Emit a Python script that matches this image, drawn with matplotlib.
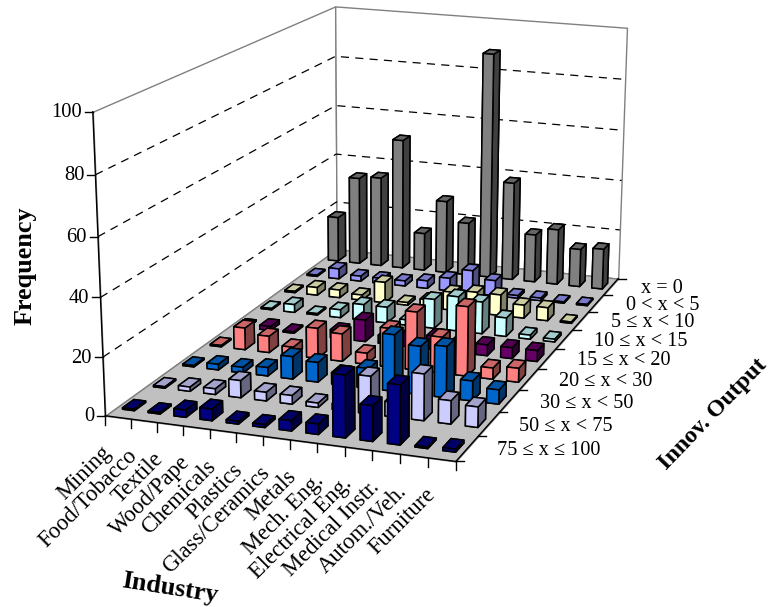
import numpy as np
import matplotlib
matplotlib.use("Agg")
import matplotlib.pyplot as plt
from matplotlib.colors import to_rgb
from matplotlib.lines import Line2D
from mpl_toolkits.mplot3d import Axes3D
from mpl_toolkits.mplot3d.art3d import Poly3DCollection

plt.rcParams["font.family"] = ["Liberation Serif", "DejaVu Serif"]

WIDTH, HEIGHT = 770, 607

industries = ["Mining", "Food/Tobacco", "Textile", "Wood/Pape", "Chemicals", "Plastics",
              "Glass/Ceramics", "Metals", "Mech. Eng.", "Electrical Eng.", "Medical Instr.",
              "Autom./Veh.", "Furniture"]
output_classes = ["x = 0", "0 < x < 5", "5 \u2264 x < 10", "10 \u2264 x < 15", "15 \u2264 x < 20",
                  "20 \u2264 x < 30", "30 \u2264 x < 50", "50 \u2264 x < 75", "75 \u2264 x \u2264 100"]
freq_ticks = [0, 20, 40, 60, 80, 100]

# one list per output class, back row first
row_x0 = [18, 35, 36, 52, 15, 29, 21, 89, 39, 19, 22, 15, 16]
row_x5 = [0.5, 4, 2, 2, 2, 3, 5, 9, 6, 1, 1, 0.5, 0.5]
row_x10 = [0.5, 3, 3, 2, 8, 1, 3, 7, 8, 8, 5, 5, 0.5]
row_x15 = [0.5, 3, 0.5, 3, 6, 6, 2, 11, 13, 12, 7, 1.5, 1]
row_x20 = [0.5, 1.5, 0.5, 2, 3, 8, 3, 5, 5, 4, 4, 4, 4]
row_x30 = [0.5, 8, 6, 3, 11, 10, 4, 14, 21, 13, 25, 4, 5]
row_x50 = [0.5, 2, 2, 3, 8, 7, 4, 7, 20, 17, 18, 7, 5]
row_x75 = [0.5, 1.5, 2, 6, 3, 3, 1.5, 2, 13, 5, 16, 8, 7]
row_x100 = [0.5, 0.5, 2.5, 4, 1, 1, 3.5, 3.5, 21, 12, 20, 0.5, 1]
rows = [row_x0, row_x5, row_x10, row_x15, row_x20, row_x30, row_x50, row_x75, row_x100]

row_colors = ["#808080", "#9999FF", "#FFFFCC", "#CCFFFF", "#660066",
              "#FF8080", "#0066CC", "#CCCCFF", "#000080"]

n_col = len(industries)
n_row = len(output_classes)

fig = plt.figure(figsize=(WIDTH / 100, HEIGHT / 100), dpi=100)
# square axes bigger than the figure, so nothing gets clipped
ax = fig.add_axes([-15 / WIDTH, -96 / HEIGHT, 800 / WIDTH, 800 / HEIGHT],
                  projection="3d", computed_zorder=False)
ax.set_axis_off()


def fit_camera():
    """Fit the Excel style perspective from where the plot box corners sit in the picture."""
    world = np.array([[0, 0, 0], [0, n_row, 0], [n_col, n_row, 0], [n_col, 0, 0],
                      [0, 0, 100], [0, n_row, 100], [n_col, n_row, 100]], float)
    pixels = np.array([[105, 415], [337, 250], [618, 278], [456, 462],
                       [93, 112], [335, 6], [627, 28]], float)
    display = np.column_stack([pixels[:, 0], HEIGHT - pixels[:, 1]])
    view = ax.transData.inverted().transform(display)
    lhs, rhs = [], []
    for (X, Y, Z), (u, v) in zip(world, view):
        lhs.append([X, Y, Z, 1, 0, 0, 0, 0, -u * X, -u * Y, -u * Z])
        lhs.append([0, 0, 0, 0, X, Y, Z, 1, -v * X, -v * Y, -v * Z])
        rhs += [u, v]
    p = np.linalg.lstsq(np.array(lhs), np.array(rhs), rcond=None)[0]
    return np.array([p[:4], p[4:8], [0, 0, 0, -1], [p[8], p[9], p[10], 1]])


M = fit_camera()
ax.get_proj = lambda: M


def to_px(x, y, z):
    v = M @ np.array([x, y, z, 1.0])
    d = ax.transData.transform([v[0] / v[3], v[1] / v[3]])
    return d[0], HEIGHT - d[1]


def shade(color, k):
    return tuple(c * k for c in to_rgb(color))


def px_line(p0, p1, color="black", lw=1.0):
    fig.add_artist(Line2D([p0[0] / WIDTH, p1[0] / WIDTH],
                          [1 - p0[1] / HEIGHT, 1 - p1[1] / HEIGHT],
                          color=color, lw=lw, transform=fig.transFigure))


def px_text(x, y, s, **kw):
    fig.text(x / WIDTH, 1 - y / HEIGHT, s, **kw)


# walls and floor
wall_left = [[(0, 0, 0), (0, n_row, 0), (0, n_row, 100), (0, 0, 100)]]
wall_back = [[(0, n_row, 0), (n_col, n_row, 0), (n_col, n_row, 100), (0, n_row, 100)]]
floor = [[(0, 0, 0), (n_col, 0, 0), (n_col, n_row, 0), (0, n_row, 0)]]
for poly, fc in ((wall_left, "white"), (wall_back, "white"), (floor, "#C0C0C0")):
    ax.add_collection3d(Poly3DCollection(poly, facecolor=fc, edgecolor="#808080",
                                         linewidth=1.0, zorder=1))

for f in freq_ticks[1:-1]:
    ax.plot([0, 0, n_col], [0, n_row, n_row], [f, f, f], color="black", lw=0.9,
            dashes=(6.5, 5), zorder=2)

# bars, back row first and left to right
bar_w, bar_d = 0.46, 0.36
for r, (values, c) in enumerate(zip(rows, row_colors)):
    y_pos = n_row - 1 - r
    faces = [shade(c, 0.8), shade(c, 0.8), c, c, shade(c, 0.5), shade(c, 0.5)]
    for i, h in enumerate(values):
        ax.bar3d(i + 0.5 - bar_w / 2, y_pos + 0.5 - bar_d / 2, 0, bar_w, bar_d, h,
                 color=faces, shade=False, edgecolor="black", linewidth=1.1,
                 zorder=10 + r * 20 + i)

# value axis
px_line(to_px(0, 0, 0), to_px(0, 0, 100), color="black")
for f in freq_ticks:
    x, y = to_px(0, 0, f)
    px_line((x - 8, y), (x, y))
    px_text(x - 11, y + 1, str(f), ha="right", va="center", fontsize=14.8)

# industry axis
px_line(to_px(0, 0, 0), to_px(n_col, 0, 0), color="black")
for i in range(n_col + 1):
    x, y = to_px(i, 0, 0)
    px_line((x, y), (x, y + 9))
for i, name in enumerate(industries):
    x, y = to_px(i + 0.5, 0, 0)
    px_text(x - 10, y + 32, name, ha="right", va="center", rotation=45,
            rotation_mode="anchor", fontsize=16.3)

# output class axis
px_line(to_px(n_col, 0, 0), to_px(n_col, n_row, 0), color="black")
for r in range(n_row + 1):
    x, y = to_px(n_col, r, 0)
    px_line((x, y), (x + 8, y))
for r, name in enumerate(output_classes):
    x, y = to_px(n_col, n_row - 0.5 - r, 0)
    px_text(x + 30, y + 2, name, ha="left", va="center", fontsize=14.6)

# axis titles
px_text(25, 266, "Frequency", ha="center", va="center", rotation=90,
        fontsize=18.8, fontweight="bold")
px_text(170, 588, "Industry", ha="center", va="center", rotation=-9,
        fontsize=18.8, fontweight="bold")
px_text(713, 414, "Innov. Output", ha="center", va="center", rotation=46,
        fontsize=17.3, fontweight="bold")

fig.savefig("out.png", dpi=100)
